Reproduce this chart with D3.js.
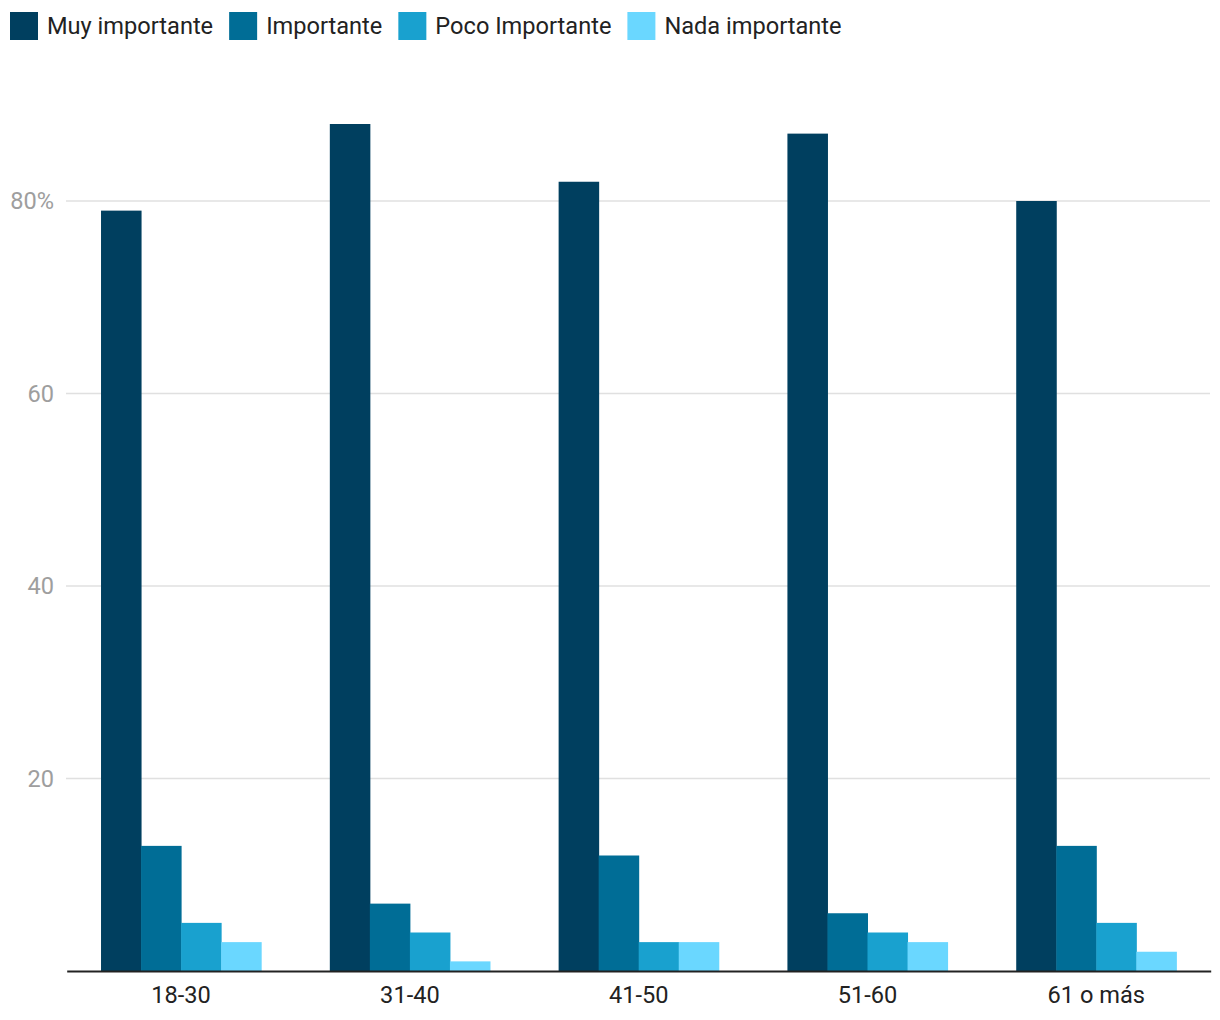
<!DOCTYPE html>
<html><head><meta charset="utf-8">
<script src="https://cdn.jsdelivr.net/npm/d3@7"></script>
<style>body{margin:0;background:#fff;} svg{display:block;font-family:Roboto,sans-serif;}</style>
</head><body>
<svg id="chart" width="1220" height="1020"></svg>
<script>
const categories = ["18-30", "31-40", "41-50", "51-60", "61 o más"];
const seriesNames = ["Muy importante", "Importante", "Poco Importante", "Nada importante"];
const muyImportante = [79, 88, 82, 87, 80];
const importante = [13, 7, 12, 6, 13];
const pocoImportante = [5, 4, 3, 4, 5];
const nadaImportante = [3, 1, 3, 3, 2];
const yTicks = [20, 40, 60, 80];
const colors = ["#003f5f", "#006d96", "#19a1cf", "#6ad7ff"];

const seriesValues = [muyImportante, importante, pocoImportante, nadaImportante];
const svg = d3.select("#chart");
const plotLeft = 66, plotRight = 1210, plotBottom = 971;
const fs = 23.6;

const y = d3.scaleLinear().domain([0, 80]).range([plotBottom, 201]);
const x0 = d3.scaleBand().domain(categories).range([plotLeft + 0.7, plotRight + 0.7]).paddingInner(0.3).paddingOuter(0.15);
const x1 = d3.scaleBand().domain(seriesNames).range([0, x0.bandwidth()]);

// gridlines
svg.append("g").selectAll("line").data(yTicks).join("line")
  .attr("x1", plotLeft).attr("x2", plotRight)
  .attr("y1", d => y(d)).attr("y2", d => y(d))
  .attr("stroke", "#e0e0e0").attr("stroke-width", 1.5);

// y labels
svg.append("g").selectAll("text").data(yTicks).join("text")
  .attr("x", 54).attr("y", d => y(d)).attr("dy", "0.35em")
  .attr("text-anchor", "end").attr("fill", "#9e9e9e").attr("font-size", fs)
  .text(d => d === 80 ? d + "%" : d);

// bars
const groups = svg.append("g").selectAll("g").data(categories).join("g")
  .attr("transform", d => `translate(${x0(d)},0)`);
groups.selectAll("rect").data((c, i) => seriesNames.map((s, j) => ({s, v: seriesValues[j][i], j})))
  .join("rect")
  .attr("x", d => x1(d.s)).attr("width", x1.bandwidth() + 0.5)
  .attr("y", d => y(d.v)).attr("height", d => plotBottom - y(d.v))
  .attr("fill", d => colors[d.j]);

// x axis
const xAxis = d3.axisBottom(x0).tickSize(0).tickPadding(15);
const gx = svg.append("g").attr("transform", `translate(0,${plotBottom})`).call(xAxis);
gx.select(".domain").attr("stroke", "#222").attr("stroke-width", 2);
gx.selectAll("text").attr("font-size", fs).attr("fill", "#222").attr("font-family", "Roboto, sans-serif");

// legend
const legend = svg.append("g");
let lx = 10;
seriesNames.forEach((s, i) => {
  legend.append("rect").attr("x", lx).attr("y", 12).attr("width", 28).attr("height", 28).attr("fill", colors[i]);
  const t = legend.append("text").attr("x", lx + 37).attr("y", 26).attr("dy", "0.35em")
    .attr("font-size", fs).attr("fill", "#222").text(s);
  lx += 37 + t.node().getComputedTextLength() + 16;
});
</script>
</body></html>
